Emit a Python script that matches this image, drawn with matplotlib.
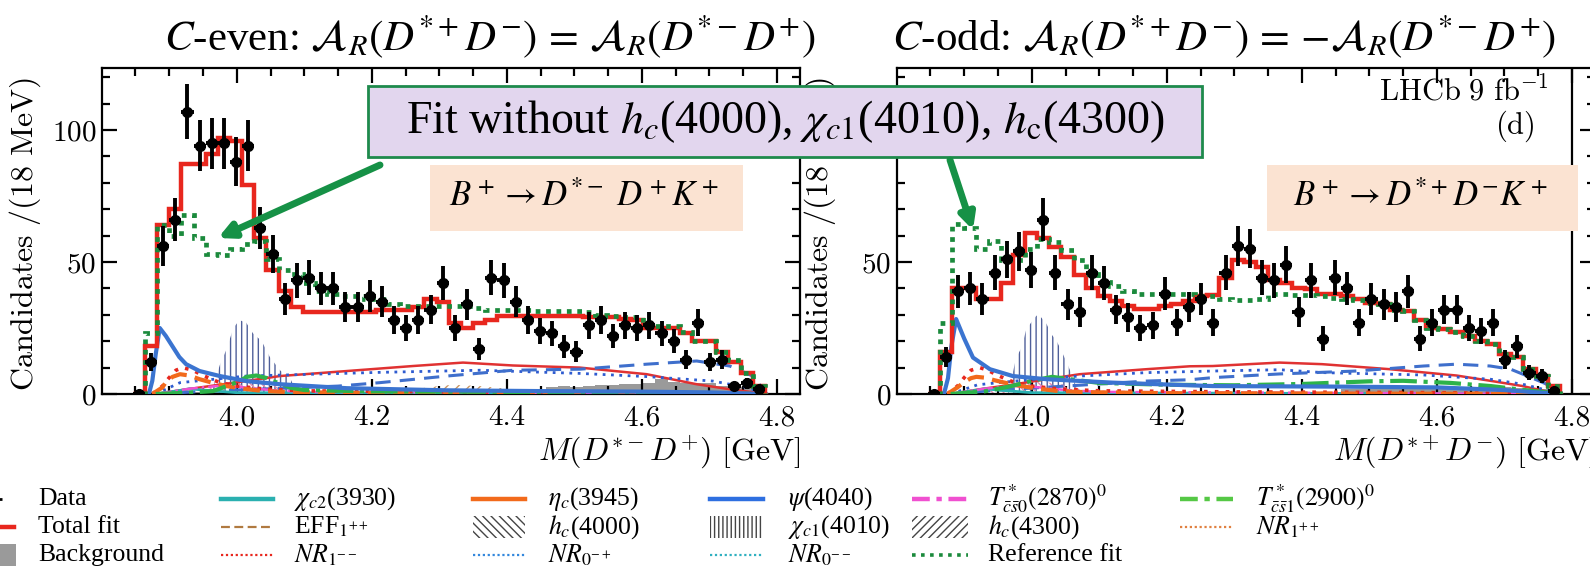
import numpy as np
import matplotlib
matplotlib.use("Agg")
import matplotlib.pyplot as plt
from matplotlib.patches import Rectangle
from matplotlib.ticker import MultipleLocator, FormatStrFormatter

plt.rcParams["font.family"] = "cmr10"
plt.rcParams["mathtext.fontset"] = "cm"
plt.rcParams["axes.formatter.use_mathtext"] = True
plt.rcParams["hatch.linewidth"] = 1.0

# ---------------- binning: 18 MeV bins ----------------
BIN_LO, BIN_W, N_BINS = 3.846, 0.018, 52
edges = BIN_LO + BIN_W * np.arange(N_BINS + 1)
centers = 0.5 * (edges[:-1] + edges[1:])

# ---------------- C-even panel: B+ -> D*- D+ K+ ----------------
even_data = [0, 12, 56, 66, 107, 94, 95, 95, 88, 94, 63, 53, 36, 43, 44, 40, 40, 33,
             33, 37, 35, 28, 25, 28, 32, 42, 25, 34, 17, 44, 43, 35, 28, 24, 23, 18,
             16, 26, 28, 22, 26, 25, 26, 23, 20, 13, 27, 12, 13, 3, 4, 2]
even_total = [0, 18, 64, 70, 87, 87, 91, 97, 96, 79, 59, 47, 39, 33, 31, 31, 31, 31,
              31, 31, 32, 32, 32, 33, 36, 35, 27, 25, 27, 28, 29.5, 29.5, 29.5, 29.5,
              29.5, 29.5, 29.5, 29, 29, 29, 28.5, 28, 25, 25, 25, 23, 20, 20, 16, 12, 8, 3]
even_ref = [0, 23, 64, 60, 68, 59, 53, 52.5, 55, 57, 58, 51, 47, 45.5, 42, 39, 38, 37,
            37, 36, 36, 34, 33.5, 33.5, 33.5, 33.5, 33.5, 33.5, 32.5, 32, 32, 32, 32,
            31.3, 31.3, 31.3, 31.3, 31, 30, 29.5, 29, 29, 26, 25.6, 25.6, 23.5, 20, 20,
            16, 12.8, 8, 3]
even_bkg = [0, 0.8, 0.8, 0.8, 0.8, 0.8, 0.8, 0.8, 0.8, 0.8, 0.8, 0.8, 0.8, 0.8, 0.8,
            0.8, 0.8, 0.8, 0.8, 0.8, 0.8, 0.8, 0.8, 0.8, 1, 1, 1, 1, 1, 1, 1, 1, 1, 1,
            2.7, 3, 2.5, 3, 3.3, 3.5, 3.8, 3.7, 4, 5.6, 4.5, 4.3, 4.2, 4, 3, 2.7, 2.5, 1.5]

even_psi_m = [3.870, 3.875, 3.880, 3.886, 3.895, 3.906, 3.915, 3.925, 3.945, 3.975,
              4.014, 4.064, 4.163, 4.31, 4.45, 4.6, 4.7, 4.78]
even_psi_v = [0, 5, 15, 25, 22, 17.6, 14, 11.3, 8.7, 6.8, 4.9, 3.7, 2.2, 1.4, 1.1, 0.9, 0.6, 0]
even_redthin_m = [3.88, 3.916, 3.96, 4.014, 4.064, 4.163, 4.261, 4.335, 4.409, 4.508,
                  4.607, 4.681, 4.73, 4.785]
even_redthin_v = [0, 1.4, 3, 4.9, 6.8, 8.7, 10.6, 11.9, 10.8, 10, 7.5, 3.7, 1.8, 0]
even_nr0mp_m = [3.88, 3.916, 4.014, 4.113, 4.212, 4.36, 4.508, 4.607, 4.705, 4.755, 4.785]
even_nr0mp_v = [0, 4.3, 6.8, 7.5, 8.2, 9, 7.8, 6.6, 4.9, 2.5, 0]
even_bdash_m = [3.88, 3.95, 4.05, 4.15, 4.212, 4.26, 4.311, 4.409, 4.508, 4.607,
                4.681, 4.73, 4.764, 4.785]
even_bdash_v = [0, 1.0, 2.0, 3.0, 4.3, 5.5, 6.8, 9.0, 9.4, 11.3, 12.5, 10.6, 6.8, 0]
even_nr1mm_m = [3.875, 3.89, 3.9, 3.91, 3.92, 3.935, 3.95, 3.975, 4.0, 4.04, 4.1, 4.3, 4.6, 4.78]
even_nr1mm_v = [0, 3, 6.2, 9, 10, 9, 7, 4.3, 3, 1.9, 1.2, 0.8, 0.5, 0]
even_etac_m = [3.875, 3.89, 3.896, 3.905, 3.916, 3.93, 3.945, 3.965, 3.985, 4.01, 4.04,
               4.08, 4.2, 4.78]
even_etac_v = [0, 2.5, 4.9, 6.5, 7.5, 7, 5.6, 4.2, 3, 2, 1.1, 0.7, 0.3, 0]
even_tcs1_m = [3.88, 3.93, 3.965, 3.985, 4.004, 4.015, 4.029, 4.045, 4.053, 4.068,
               4.079, 4.1, 4.2, 4.4, 4.6, 4.78]
even_tcs1_v = [0, 0.5, 1.1, 3, 4.9, 6.5, 7, 6, 4.9, 3.7, 2.4, 1.5, 1, 0.8, 0.6, 0]
even_tcs0_m = [3.88, 3.93, 3.97, 4.0, 4.05, 4.1, 4.78]
even_tcs0_v = [0, 2, 3, 2.8, 1.5, 0.8, 0]
even_chic2_m = [3.88, 3.92, 3.93, 3.95, 4.0, 4.78]
even_chic2_v = [0, 1.5, 2, 1.5, 0.5, 0]
even_chic1_m = [3.962, 3.975, 3.985, 3.995, 4.004, 4.014, 4.024, 4.037, 4.049, 4.064, 4.079, 4.09]
even_chic1_v = [0, 11, 17, 25, 28, 27, 23, 20, 14, 9, 6, 0]
even_hc4000_m = [3.92, 3.95, 3.98, 4.0, 4.02, 4.05, 4.08, 4.1]
even_hc4000_v = [0, 2, 4, 5, 4.5, 3.5, 1.5, 0]
even_hc4300_m = [4.24, 4.28, 4.32, 4.36, 4.40, 4.44]
even_hc4300_v = [0, 2.5, 3.5, 3, 2, 0]

# ---------------- C-odd panel: B+ -> D*+ D- K+ ----------------
odd_data = [0, 14, 39, 40, 36, 46, 51, 54, 47, 66, 46, 34, 31, 46, 42, 32, 29, 25, 26,
            38, 27, 33, 36, 27, 46, 56, 55, 44, 43, 49, 31, 43, 21, 44, 40, 27, 36, 34,
            33, 39, 21, 27, 32, 32, 25, 24, 27, 13, 18, 8, 7, 1]
odd_total = [0, 16, 40, 40, 36, 36, 42, 52.5, 61, 59, 55.6, 51.8, 45, 40, 37.3, 35.4,
             33.5, 32.2, 32.2, 33.5, 34, 35.4, 37, 37.5, 44, 50.6, 50, 48, 43, 42, 40,
             39.8, 38, 38, 37, 36, 34.5, 34, 32, 31.5, 28, 25, 24.5, 23.5, 22, 20, 19,
             15, 14, 9.5, 7, 3]
odd_ref = [0, 27, 64.5, 63, 55, 58, 50.6, 50.6, 55, 58.8, 57.5, 54.4, 50.6, 45.6, 42.3,
           41, 39.2, 38, 37.9, 37.9, 37.9, 37.9, 37, 37, 36, 35.5, 35.5, 36, 38, 38, 37.5,
           37.5, 37, 36.5, 36, 35.5, 34.5, 34, 32, 31.5, 28, 25, 24.5, 23.5, 22, 20, 19,
           15, 14, 9.5, 7, 3]
odd_bkg = [0, 0.5, 0.5, 0.5, 0.5, 0.5, 0.5, 0.5, 0.5, 0.5, 0.5, 0.5, 0.5, 0.5, 0.5,
           0.5, 0.5, 0.5, 0.5, 0.5, 0.5, 0.5, 0.5, 0.5, 0.8, 0.8, 0.8, 0.8, 0.8, 0.8,
           0.8, 0.8, 0.8, 0.8, 2, 2, 2, 2, 2, 2, 2.2, 2.2, 2.2, 2.5, 2.5, 2.5, 2.5, 2.5,
           2.2, 2, 2, 1]

odd_psi_m = [3.870, 3.876, 3.881, 3.888, 3.9, 3.913, 3.938, 3.972, 4.022, 4.12, 4.268,
             4.45, 4.6, 4.7, 4.78]
odd_psi_v = [0, 6, 18, 28.4, 21, 13.8, 9.4, 6.8, 5.6, 4.3, 3, 2.8, 2.5, 1.5, 0]
odd_redthin_m = [3.88, 3.923, 3.97, 4.022, 4.071, 4.17, 4.234, 4.268, 4.367, 4.43, 4.53,
                 4.629, 4.679, 4.727, 4.77, 4.785]
odd_redthin_v = [0, 1.8, 3.5, 5.6, 7.5, 9.4, 10.5, 10.6, 11.9, 11.3, 9.4, 7, 5, 3, 0.5, 0]
odd_nr0mp_m = [3.88, 3.92, 4.0, 4.071, 4.17, 4.268, 4.367, 4.431, 4.58, 4.679, 4.727, 4.757, 4.785]
odd_nr0mp_v = [0, 3.5, 5.5, 6.8, 8.1, 8.7, 9.2, 8.1, 7.2, 5.6, 3.7, 1.8, 0]
odd_bdash_m = [3.88, 3.95, 4.05, 4.17, 4.234, 4.268, 4.367, 4.48, 4.58, 4.629, 4.679,
               4.709, 4.734, 4.76, 4.785]
odd_bdash_v = [0, 1.5, 3, 4.9, 5.4, 6.2, 7.6, 8.7, 10.6, 11.3, 10.6, 9.4, 6.8, 4, 0]
odd_nr1mm_m = [3.875, 3.89, 3.9, 3.91, 3.923, 3.935, 3.95, 3.975, 4.0, 4.04, 4.1, 4.3, 4.6, 4.78]
odd_nr1mm_v = [0, 3, 6.2, 9, 10, 9, 7, 4.3, 3, 1.9, 1.2, 0.8, 0.5, 0]
odd_etac_m = [3.875, 3.89, 3.9, 3.91, 3.918, 3.93, 3.945, 3.965, 3.985, 4.01, 4.04, 4.08, 4.2, 4.78]
odd_etac_v = [0, 2.5, 4.5, 6, 6.5, 6.2, 5.2, 4, 3, 2, 1.1, 0.7, 0.3, 0]
odd_tcs1_m = [3.88, 3.93, 3.97, 4.0, 4.03, 4.06, 4.1, 4.2, 4.3, 4.4, 4.5, 4.55, 4.62,
              4.68, 4.73, 4.785]
odd_tcs1_v = [0, 1, 3, 5, 6.5, 5.5, 4.2, 3.5, 3.3, 3.8, 4.8, 5, 4.2, 3, 1.5, 0]
odd_tcs0_m = [3.88, 3.93, 3.97, 4.0, 4.05, 4.1, 4.78]
odd_tcs0_v = [0, 2, 3, 2.8, 1.5, 0.8, 0]
odd_chic2_m = [3.88, 3.92, 3.93, 3.95, 4.0, 4.78]
odd_chic2_v = [0, 1.5, 2, 1.5, 0.5, 0]
odd_chic1_m = [3.965, 3.977, 3.985, 3.992, 3.999, 4.007, 4.014, 4.022, 4.029, 4.037,
               4.044, 4.052, 4.059, 4.07]
odd_chic1_v = [0, 13.8, 17.6, 24.6, 27, 29.7, 29, 26.5, 22.7, 20, 16.3, 11.9, 7.5, 0]
odd_hc4000_m = [3.92, 3.95, 3.98, 4.0, 4.02, 4.05, 4.08, 4.1]
odd_hc4000_v = [0, 2, 4, 5, 4.5, 3.5, 1.5, 0]

# ---------------- colours ----------------
C_RED = "#E8271E"
C_GREEN = "#1B8A3C"
C_PSI = "#3B74D0"
C_BLUE_DOT = "#2E5BD0"
C_BLUE_DASH = "#3F6FCC"
C_RED_THIN = "#E03232"
C_ORANGE = "#F26A1B"
C_TGREEN = "#2DB34A"
C_MAGENTA = "#F050D0"
C_CYAN = "#2AB0B0"
C_CHIC1 = "#4F5F9A"
C_PINK = "#E38AB0"
C_BROWN = "#C99460"
C_BKG = "#9A9A9A"

W, H = 1590, 571
fig = plt.figure(figsize=(W / 100, H / 100), dpi=100)

AX_Y0, AX_Y1 = 394, 68


def add_panel(x0):
    return fig.add_axes([x0 / W, (H - AX_Y0) / H, 698 / W, (AX_Y0 - AX_Y1) / H])


def draw_panel(ax, data, total, ref, bkg, comps, hatches, xlabel):
    ax.stairs(bkg, edges, fill=True, color=C_BKG, zorder=1)
    for m, v, color, hatch in hatches:
        ax.fill_between(m, v, 0, facecolor="none", edgecolor=color, hatch=hatch,
                        linewidth=0, zorder=2)
    for m, v, kw in comps:
        ax.plot(m, v, zorder=3, **kw)
    ax.stairs(total, edges, color=C_RED, lw=3.2, zorder=5)
    ax.stairs(ref, edges, color=C_GREEN, lw=3.4, ls=(0, (1, 1.2)), zorder=6)
    d = np.asarray(data, dtype=float)
    ax.errorbar(centers, d, yerr=np.sqrt(d), xerr=BIN_W / 2, fmt="o", color="k",
                ms=7, elinewidth=2.8, capsize=0, zorder=8)
    ax.set_xlim(3.8005, 4.834)
    ax.set_ylim(0, 123.5)
    ax.xaxis.set_major_locator(MultipleLocator(0.2))
    ax.xaxis.set_minor_locator(MultipleLocator(0.05))
    ax.yaxis.set_major_locator(MultipleLocator(50))
    ax.yaxis.set_minor_locator(MultipleLocator(10))
    ax.xaxis.set_major_formatter(FormatStrFormatter("%.1f"))
    ax.tick_params(which="both", direction="in", top=True, right=True, width=1.6,
                   labelsize=21)
    ax.tick_params(which="major", length=11)
    ax.tick_params(which="minor", length=6)
    ax.tick_params(axis="x", pad=8)
    ax.tick_params(axis="y", pad=4)
    for s in ax.spines.values():
        s.set_linewidth(1.6)
    ax.set_xlabel(xlabel, fontsize=23, loc="right", labelpad=2)
    ax.set_ylabel(r"$\mathrm{Candidates\ /(18\ MeV)}$", fontsize=23)
    ax.yaxis.set_label_coords(-0.084, 0.49)


def comp_list(psi, redthin, nr0mp, bdash, nr1mm, etac, tcs1, tcs0, chic2):
    return [
        (*redthin, dict(color=C_RED_THIN, lw=1.8)),
        (*nr0mp, dict(color=C_BLUE_DOT, lw=2.0, ls=(0, (1, 2)))),
        (*bdash, dict(color=C_BLUE_DASH, lw=2.2, ls=(0, (5, 3)))),
        (*chic2, dict(color=C_CYAN, lw=2.0)),
        (*tcs0, dict(color=C_MAGENTA, lw=1.8, ls="-.")),
        (*nr1mm, dict(color=C_RED, lw=2.6, ls=(0, (1, 2)))),
        (*etac, dict(color=C_ORANGE, lw=3.0, ls=(0, (4, 2)))),
        (*tcs1, dict(color=C_TGREEN, lw=3.0, ls="-.")),
        (*psi, dict(color=C_PSI, lw=3.0)),
    ]


ax1 = add_panel(102)
draw_panel(
    ax1, even_data, even_total, even_ref, even_bkg,
    comp_list((even_psi_m, even_psi_v), (even_redthin_m, even_redthin_v),
              (even_nr0mp_m, even_nr0mp_v), (even_bdash_m, even_bdash_v),
              (even_nr1mm_m, even_nr1mm_v), (even_etac_m, even_etac_v),
              (even_tcs1_m, even_tcs1_v), (even_tcs0_m, even_tcs0_v),
              (even_chic2_m, even_chic2_v)),
    [(even_chic1_m, even_chic1_v, C_CHIC1, "|||"),
     (even_hc4000_m, even_hc4000_v, C_PINK, "\\\\\\"),
     (even_hc4300_m, even_hc4300_v, C_BROWN, "///")],
    r"$M(D^{*-}D^{+})\ [\mathrm{GeV}]$")

ax2 = add_panel(897)
draw_panel(
    ax2, odd_data, odd_total, odd_ref, odd_bkg,
    comp_list((odd_psi_m, odd_psi_v), (odd_redthin_m, odd_redthin_v),
              (odd_nr0mp_m, odd_nr0mp_v), (odd_bdash_m, odd_bdash_v),
              (odd_nr1mm_m, odd_nr1mm_v), (odd_etac_m, odd_etac_v),
              (odd_tcs1_m, odd_tcs1_v), (odd_tcs0_m, odd_tcs0_v),
              (odd_chic2_m, odd_chic2_v)),
    [(odd_chic1_m, odd_chic1_v, C_CHIC1, "|||"),
     (odd_hc4000_m, odd_hc4000_v, C_PINK, "\\\\\\")],
    r"$M(D^{*+}D^{-})\ [\mathrm{GeV}]$")
ax2.axvline(4.8, color="k", lw=1.6, zorder=9)
ax2.text(4.765, 114.5, r"$\mathrm{LHCb\ 9\ fb^{-1}}$", fontsize=22, ha="right", va="center")
ax2.text(4.745, 101.5, r"$\mathrm{(d)}$", fontsize=22, ha="right", va="center")

# ---------------- overlay in pixel coordinates ----------------
ov = fig.add_axes([0, 0, 1, 1], zorder=20)
ov.set_xlim(0, W)
ov.set_ylim(H, 0)
ov.axis("off")
ov.patch.set_alpha(0)

serif = ["Liberation Serif", "DejaVu Serif"]

ov.text(490, 36, r"$C$-even: $\mathcal{A}_R(D^{*+}D^{-})\,=\,\mathcal{A}_R(D^{*-}D^{+})$",
        fontsize=31, family=serif, math_fontfamily="stix", ha="center", va="center")
ov.text(1224, 36, r"$C$-odd: $\mathcal{A}_R(D^{*+}D^{-})\,=\,{-}\mathcal{A}_R(D^{*-}D^{+})$",
        fontsize=31, family=serif, math_fontfamily="stix", ha="center", va="center")

# peach decay-channel boxes
ov.add_patch(Rectangle((430, 165), 313, 66, facecolor="#FBE3D2", edgecolor="none"))
ov.text(584, 198, r"$B^+ \rightarrow D^{*-}\ D^+K^+$", fontsize=25, family=serif,
        math_fontfamily="stix", ha="center", va="center")
ov.add_patch(Rectangle((1267, 165), 311, 66, facecolor="#FBE3D2", edgecolor="none"))
ov.text(1420, 198, r"$B^+ \rightarrow D^{*+}D^{-}K^+$", fontsize=25, family=serif,
        math_fontfamily="stix", ha="center", va="center")

# purple note box and arrows
ov.add_patch(Rectangle((368, 86), 834, 71, facecolor="#E2D6EE", edgecolor="#1E8A4C", lw=2))
ov.text(785, 122, r"Fit without $h_c$(4000), $\chi_{c1}$(4010), $h_{\mathrm{c}}$(4300)",
        fontsize=33, family=serif, math_fontfamily="stix", ha="center", va="center")
arrow_kw = dict(arrowstyle="-|>,head_length=0.9,head_width=0.45", lw=5, color="#169146",
                shrinkA=0, shrinkB=0)
ov.annotate("", xy=(218, 238), xytext=(380, 165), arrowprops=arrow_kw)
ov.annotate("", xy=(973, 230), xytext=(950, 160), arrowprops=arrow_kw)

# ---------------- legend ----------------
rows = [499, 527, 555]
cols = [(-40, 14, 38), (221, 273, 294), (473, 525, 548), (710, 763, 788),
        (912, 968, 988), (1180, 1233, 1256)]
LFS = 18.5


def leg_text(ci, ri, s):
    ov.text(cols[ci][2], rows[ri], s, fontsize=LFS, family=serif,
            math_fontfamily="stix", ha="left", va="center")


def leg_line(ci, ri, **kw):
    x0, x1, _ = cols[ci]
    ov.plot([x0, x1], [rows[ri], rows[ri]], **kw)


def leg_hatch(ci, ri, hatch):
    x0, x1, _ = cols[ci]
    ov.add_patch(Rectangle((x0, rows[ri] - 11), x1 - x0, 22, facecolor="none",
                           edgecolor="#444444", hatch=hatch, lw=0))


# column 1
ov.errorbar([-8], [rows[0]], xerr=[[10], [10]], yerr=[[9], [9]], fmt="o", color="k",
            ms=5, elinewidth=2.0, capsize=0)
leg_text(0, 0, "Data")
leg_line(0, 1, color=C_RED, lw=3.2)
leg_text(0, 1, "Total fit")
ov.add_patch(Rectangle((-20, rows[2] - 11), 36, 22, facecolor=C_BKG, edgecolor="none"))
leg_text(0, 2, "Background")
# column 2
leg_line(1, 0, color=C_CYAN, lw=3.2)
leg_text(1, 0, r"$\chi_{c2}$(3930)")
leg_line(1, 1, color="#B07A40", lw=1.6, ls=(0, (4, 2)))
leg_text(1, 1, r"EFF$_{1^{++}}$")
leg_line(1, 2, color=C_RED, lw=1.6, ls=(0, (1, 1.2)))
leg_text(1, 2, r"$NR_{1^{--}}$")
# column 3
leg_line(2, 0, color=C_ORANGE, lw=3.2)
leg_text(2, 0, r"$\eta_c$(3945)")
leg_hatch(2, 1, "\\\\\\\\")
leg_text(2, 1, r"$h_c$(4000)")
leg_line(2, 2, color="#3388DD", lw=1.6, ls=(0, (1, 1.2)))
leg_text(2, 2, r"$NR_{0^{-+}}$")
# column 4
leg_line(3, 0, color="#2E6FE0", lw=3.2)
leg_text(3, 0, r"$\psi$(4040)")
leg_hatch(3, 1, "||||")
leg_text(3, 1, r"$\chi_{c1}$(4010)")
leg_line(3, 2, color="#30B0C0", lw=1.6, ls=(0, (1, 1.2)))
leg_text(3, 2, r"$NR_{0^{--}}$")
# column 5
leg_line(4, 0, color=C_MAGENTA, lw=3.2, ls=(0, (4, 1.5, 1.2, 1.5)))
leg_text(4, 0, r"$T^*_{\bar{c}\bar{s}0}(2870)^0$")
leg_hatch(4, 1, "////")
leg_text(4, 1, r"$h_c$(4300)")
leg_line(4, 2, color=C_GREEN, lw=2.6, ls=(0, (1, 1.5)))
leg_text(4, 2, "Reference fit")
# column 6
leg_line(5, 0, color="#55C845", lw=3.2, ls=(0, (4, 1.5, 1.2, 1.5)))
leg_text(5, 0, r"$T^*_{\bar{c}\bar{s}1}(2900)^0$")
leg_line(5, 1, color="#E08040", lw=1.6, ls=(0, (1, 1.2)))
leg_text(5, 1, r"$NR_{1^{++}}$")

fig.savefig("out.png", dpi=100)
